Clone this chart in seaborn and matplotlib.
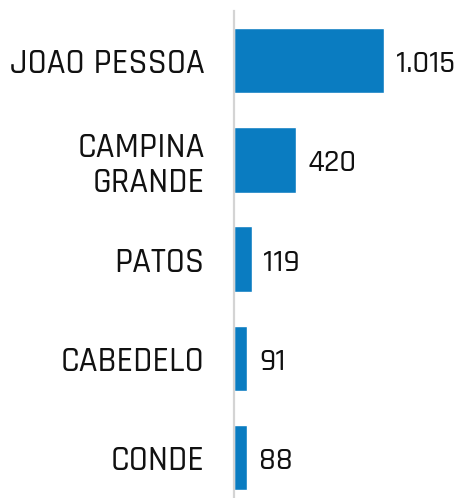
import numpy as np
import pandas as pd
import matplotlib
matplotlib.use("Agg")
import matplotlib.pyplot as plt
import seaborn as sns

cidades = ["JOAO PESSOA", "CAMPINA\nGRANDE", "PATOS", "CABEDELO", "CONDE"]
casos = [1015, 420, 119, 91, 88]
rotulos = ["1.015", "420", "119", "91", "88"]

sns.set_style("white")
plt.rcParams['font.family'] = ['Rajdhani', 'DejaVu Sans']
plt.rcParams['font.weight'] = 'medium'

df = pd.DataFrame({"cidade": cidades, "casos": casos})

fig = plt.figure(figsize=(4.55, 4.98), dpi=100)
ax = fig.add_axes([234 / 455, 0, 1 - 234 / 455, 1 - 11 / 498])

sns.barplot(data=df, x="casos", y="cidade", color="#0A7CC1", saturation=1,
            width=0.66, ax=ax)

for i, (v, t) in enumerate(zip(casos, rotulos)):
    ax.text(v + 78, i + 0.03, t, va="center", ha="left", fontsize=23,
            color="#111111")

ax.set_xlim(0, 1495)
ax.set_ylim(4.408, -0.5)
ax.set_xlabel("")
ax.set_ylabel("")
ax.set_xticks([])
ax.tick_params(axis="y", length=0, pad=21, labelsize=25, labelcolor="#111111")
for lab in ax.get_yticklabels():
    lab.set_horizontalalignment("right")
    lab.set_multialignment("right")
    lab.set_linespacing(1.2)
for s in ["top", "right", "bottom"]:
    ax.spines[s].set_visible(False)
ax.spines["left"].set_color("#d4d4d4")
ax.spines["left"].set_linewidth(1.6)

plt.savefig("out.png", dpi=100)
